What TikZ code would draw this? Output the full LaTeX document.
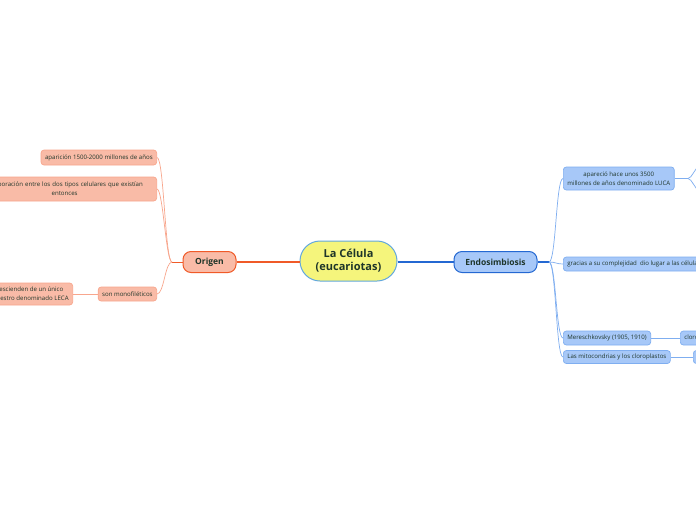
\documentclass[tikz,border=0pt]{standalone}
\usepackage{fontspec}
\setmainfont{Open Sans}
\usepackage{tikz}
\usetikzlibrary{positioning,calc}

\definecolor{txt}{HTML}{1E3529}
\definecolor{rootfill}{HTML}{F5F57C}
\definecolor{rootline}{HTML}{62A8DE}
\definecolor{ofill}{HTML}{F9BBA7}
\definecolor{oline}{HTML}{F05A28}
\definecolor{oleaf}{HTML}{F8A68D}
\definecolor{efill}{HTML}{A7C8F8}
\definecolor{eline}{HTML}{2468D2}
\definecolor{eleaf}{HTML}{7FAEF0}

\begin{document}
\begin{tikzpicture}[
    x=1pt, y=-1pt,
    root/.style={draw=rootline, fill=rootfill, line width=1pt, rounded corners=20pt,
        minimum width=97pt, minimum height=40pt, align=center, text=txt,
        font=\bfseries\fontsize{11}{13}\selectfont},
    topic/.style={line width=1pt, rounded corners=8pt, minimum height=21pt, text=txt,
        font=\bfseries\fontsize{8.5}{10}\selectfont},
    otopic/.style={topic, draw=oline, fill=ofill, minimum width=53pt},
    etopic/.style={topic, draw=eline, fill=efill, minimum width=83pt},
    leaf/.style={line width=0.7pt, rounded corners=3pt, inner xsep=4pt, inner ysep=1pt,
        align=center, text=txt, font=\fontsize{6.1}{8.8}\selectfont},
    oleafbox/.style={leaf, draw=oleaf, fill=ofill},
    eleafbox/.style={leaf, draw=eleaf, fill=efill},
    othick/.style={draw=oline, line width=1.5pt},
    ethick/.style={draw=eline, line width=1.5pt},
    othin/.style={draw=oleaf, line width=0.7pt},
    ethin/.style={draw=eleaf, line width=0.7pt}
]
    \useasboundingbox (0,0) rectangle (696,520);
    \fill[white] (0,0) rectangle (696,520);
    \clip (0,0) rectangle (696,520);

    % centre and main topics
    \node[root] (root) at (348.5,261) {La Célula\\(eucariotas)};
    \node[otopic] (origen) at (209.5,262) {Origen};
    \node[etopic] (endo) at (495.5,262) {Endosimbiosis};

    % Origen side
    \node[oleafbox, anchor=east, minimum height=15pt] (apar) at (157,157.5) {aparición 1500-2000 millones de años};
    \node[oleafbox, anchor=east, minimum height=24pt, text width=176pt] (colab) at (157,189)
        {colaboración entre los dos tipos celulares que existían\\entonces};
    \node[oleafbox, anchor=east, minimum height=14pt] (mono) at (157,294) {son monofiléticos};
    \node[oleafbox, anchor=east, minimum height=22pt] (leca) at (73,294)
        {descienden de un único\\ancestro denominado LECA};

    % Endosimbiosis side
    \node[eleafbox, anchor=west, minimum height=23pt] (luca) at (563,178.5)
        {apareció hace unos 3500\\millones de años denominado LUCA};
    \node[eleafbox, anchor=west, minimum height=14pt] (gracias) at (563,264)
        {gracias a su complejidad\ \ dio lugar a las células};
    \node[eleafbox, anchor=west, minimum height=14pt] (meres) at (563,338) {Mereschkovsky (1905, 1910)};
    \node[eleafbox, anchor=west, minimum height=14pt] (cloro) at (680,338) {cloroplastos};
    \node[eleafbox, anchor=west, minimum height=13pt] (mito) at (563,357) {Las mitocondrias y los cloroplastos};
    \node[eleafbox, anchor=west, minimum height=13pt, minimum width=30pt] (mitonext) at (693,357) {};

    \coordinate (ofork) at (172,262);
    \coordinate (efork) at (549,262);
    \coordinate (lfork) at (688,178.5);
    \coordinate (lup) at (699,167);
    \coordinate (ldown) at (699,190);

    % connectors
    \draw[othick] (origen.east) -- (origen.east -| root.west);
    \draw[ethick] (endo.west -| root.east) -- (endo.west);
    \draw[othick, line width=1pt] (origen.west) -- (ofork);
    \draw[ethick, line width=1.2pt] (endo.east) -- (efork);

    \draw[othin] (ofork) .. controls +(-7,0) and +(7,0) .. (apar.east);
    \draw[othin] (ofork) .. controls +(-6,0) and +(6,0) .. (colab.east);
    \draw[othin] (ofork) .. controls +(-7,0) and +(7,0) .. (mono.east);
    \draw[othin] (mono.west) -- (leca.east);

    \draw[ethin] (efork) .. controls +(7,0) and +(-7,0) .. (luca.west);
    \draw[ethin] (efork) .. controls +(7,0) and +(-7,0) .. (gracias.west);
    \draw[ethin] (efork) .. controls +(7,0) and +(-7,0) .. (meres.west);
    \draw[ethin] (efork) .. controls +(7,0) and +(-7,0) .. (mito.west);
    \draw[ethin] (luca.east) -- (lfork);
    \draw[ethin] (lfork) .. controls +(4,0) and +(-4,0) .. (lup);
    \draw[ethin] (lfork) .. controls +(4,0) and +(-4,0) .. (ldown);
    \draw[ethin] (meres.east) -- (cloro.west);
    \draw[ethin] (mito.east) -- (mitonext.west);
\end{tikzpicture}
\end{document}
